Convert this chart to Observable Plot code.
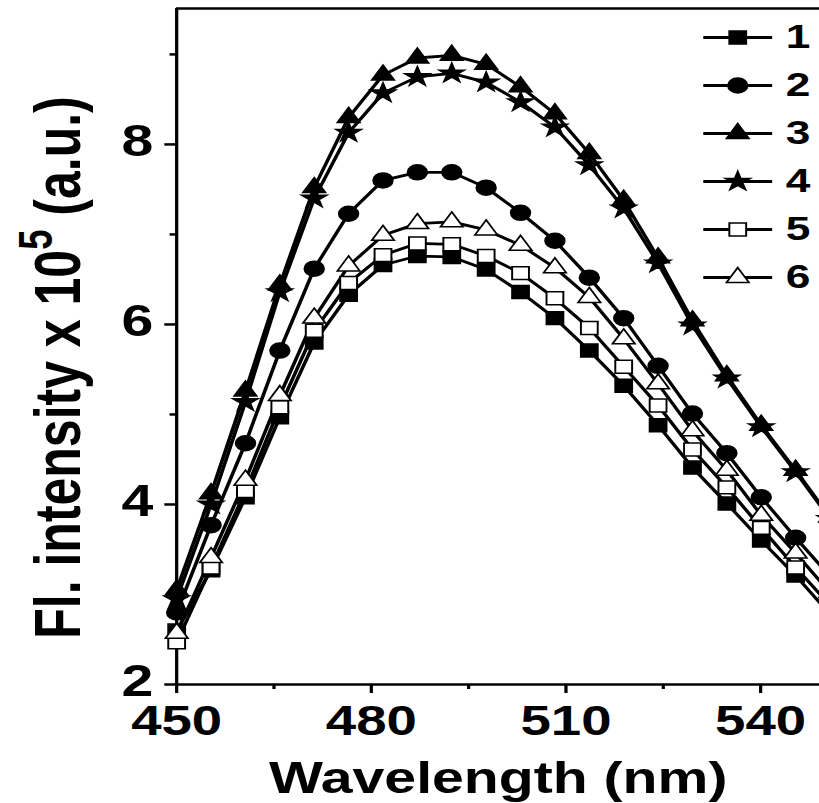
<!DOCTYPE html>
<html><head><meta charset="utf-8">
<script src="https://cdn.jsdelivr.net/npm/d3@7"></script>
<script src="https://cdn.jsdelivr.net/npm/@observablehq/plot@0.6"></script>
<style>
html,body{margin:0;padding:0;background:#fff;overflow:hidden;}
#chart{width:819px;height:803px;position:relative;overflow:hidden;}
#chart svg{transform:scaleX(1.3);transform-origin:0 0;display:block;}
</style></head><body><div id="chart"></div>
<script>
// ---- data ----
const wavelengths = [450, 455.3, 460.6, 465.9, 471.2, 476.5, 481.8, 487.1, 492.4, 497.7, 503.0, 508.3, 513.6, 518.9, 524.2, 529.5, 534.8, 540.1, 545.4, 550.7];
const series1 = [2.60, 3.27, 4.08, 4.97, 5.80, 6.33, 6.66, 6.76, 6.75, 6.61, 6.36, 6.07, 5.71, 5.32, 4.88, 4.41, 4.01, 3.60, 3.21, 2.78];
const series2 = [2.80, 3.77, 4.68, 5.71, 6.62, 7.23, 7.60, 7.69, 7.69, 7.52, 7.24, 6.93, 6.52, 6.07, 5.54, 5.01, 4.57, 4.08, 3.63, 3.20];
const series3 = [3.05, 4.12, 5.26, 6.44, 7.52, 8.30, 8.77, 8.96, 8.99, 8.89, 8.64, 8.34, 7.90, 7.38, 6.74, 6.04, 5.43, 4.88, 4.38, 3.86];
const series4 = [2.95, 4.00, 5.14, 6.36, 7.40, 8.13, 8.57, 8.75, 8.79, 8.69, 8.47, 8.19, 7.77, 7.29, 6.68, 5.99, 5.40, 4.86, 4.36, 3.84];
const series5 = [2.47, 3.30, 4.15, 5.08, 5.93, 6.46, 6.77, 6.90, 6.89, 6.76, 6.57, 6.29, 5.96, 5.53, 5.10, 4.61, 4.19, 3.74, 3.30, 2.88];
const series6 = [2.57, 3.41, 4.27, 5.21, 6.07, 6.65, 6.99, 7.12, 7.14, 7.05, 6.88, 6.63, 6.30, 5.84, 5.34, 4.82, 4.38, 3.88, 3.46, 3.02];
const seriesNames = ["1", "2", "3", "4", "5", "6"];
const xTicks = [450, 480, 510, 540];
const xMinorTicks = [465, 495, 525];
const yTicks = [2, 4, 6, 8];
const yMinorTicks = [3, 5, 7, 9];
const xLabel = "Wavelength (nm)";
const yLabelParts = ["Fl. intensity x 10", "5", " (a.u.)"];

// ---- styling ----
const seriesValues = [series1, series2, series3, series4, series5, series6];
const symbols = ["square", "circle", "triangle", "star", "square", "triangle"];
const fills = ["black", "black", "black", "black", "white", "white"];
const sizes = [7.3, 7.5, 6.4, 6.0, 7.3, 6.4];
const FONT = "'Liberation Sans', Arial, Helvetica, sans-serif";
const W = 630, H = 803;
const xDomain = [450, 549.1], yDomain = [2, 9.51];

const rows = [];
seriesValues.forEach((vals, i) => vals.forEach((v, k) => rows.push({wl: wavelengths[k], v, s: seriesNames[i]})));

const hline = {draw(ctx) { ctx.moveTo(-26.5, 0); ctx.lineTo(26.5, 0); }};

const marks = [];
// frame / axes lines
marks.push(Plot.ruleY([yDomain[1]], {stroke: "black", strokeWidth: 2.5}));
marks.push(Plot.ruleY([yDomain[0]], {stroke: "black", strokeWidth: 2.5}));
marks.push(Plot.ruleX([xDomain[0]], {stroke: "black", strokeWidth: 2.5}));
marks.push(Plot.axisX(xTicks, {tickSize: 9, tickPadding: 12, strokeWidth: 2.5, tickFormat: d => String(d), fontSize: 42, fontWeight: "bold", label: null}));
marks.push(Plot.axisX(xMinorTicks, {tickSize: 5, strokeWidth: 2.5, tickFormat: () => "", label: null}));
// y ticks (marks only) and y tick labels (text only, nudged up slightly as in the reference)
marks.push(Plot.axisY(yTicks, {tickSize: 9, strokeWidth: 2.5, tickFormat: () => "", label: null}));
marks.push(Plot.axisY(yTicks, {tickSize: 0, tickPadding: 18, tickFormat: d => String(d), fontSize: 44, fontWeight: "bold", dy: -3, label: null}));
marks.push(Plot.axisY(yMinorTicks, {tickSize: 5, strokeWidth: 2.5, tickFormat: () => "", label: null}));

// lines
seriesNames.forEach((name) => {
  marks.push(Plot.line(rows.filter(d => d.s === name), {x: "wl", y: "v", stroke: "black", strokeWidth: 2.8, clip: true}));
});
// markers
seriesNames.forEach((name, i) => {
  marks.push(Plot.dot(rows.filter(d => d.s === name), {x: "wl", y: "v", symbol: symbols[i], r: sizes[i], fill: fills[i], stroke: "black", strokeWidth: 1.5}));
});
// legend
seriesNames.forEach((name, i) => {
  const dy = 29 + 48 * i;
  marks.push(Plot.dot([name], {frameAnchor: "top-right", dx: -63, dy, symbol: hline, r: 1, fill: "none", stroke: "black", strokeWidth: 2.8}));
  marks.push(Plot.dot([name], {frameAnchor: "top-right", dx: -63, dy, symbol: symbols[i], r: sizes[i], fill: fills[i], stroke: "black", strokeWidth: 1.5}));
  marks.push(Plot.text([name], {frameAnchor: "top-right", text: d => d, dx: -26, dy, textAnchor: "start", lineAnchor: "middle", fontSize: 34, fontWeight: "bold"}));
});
// axis titles
marks.push(Plot.text([xLabel], {frameAnchor: "bottom", text: d => d, dy: 108, textAnchor: "middle", lineAnchor: "bottom", fontSize: 44, fontWeight: "bold"}));
const yLabelFull = yLabelParts.join("");
marks.push(Plot.text([yLabelFull], {frameAnchor: "left", text: d => d, rotate: -90, dx: -90, dy: 21, textAnchor: "middle", lineAnchor: "middle", fontSize: 50, fontWeight: "bold"}));

const svg = Plot.plot({
  width: W, height: H,
  marginLeft: 135.4, marginRight: 0, marginTop: 8, marginBottom: 119,
  x: {domain: xDomain},
  y: {domain: yDomain},
  style: {fontFamily: FONT, background: "white", color: "black"},
  marks
});

// superscript in the y title
d3.select(svg).selectAll("text").filter(function () { return this.textContent === yLabelFull; }).each(function () {
  const t = d3.select(this);
  t.text(null);
  t.append("tspan").text(yLabelParts[0]);
  t.append("tspan").attr("dy", -22).attr("font-size", "73%").text(yLabelParts[1]);
  t.append("tspan").attr("dy", 22).text(yLabelParts[2]);
});

document.getElementById("chart").appendChild(svg);
</script>
</body></html>
